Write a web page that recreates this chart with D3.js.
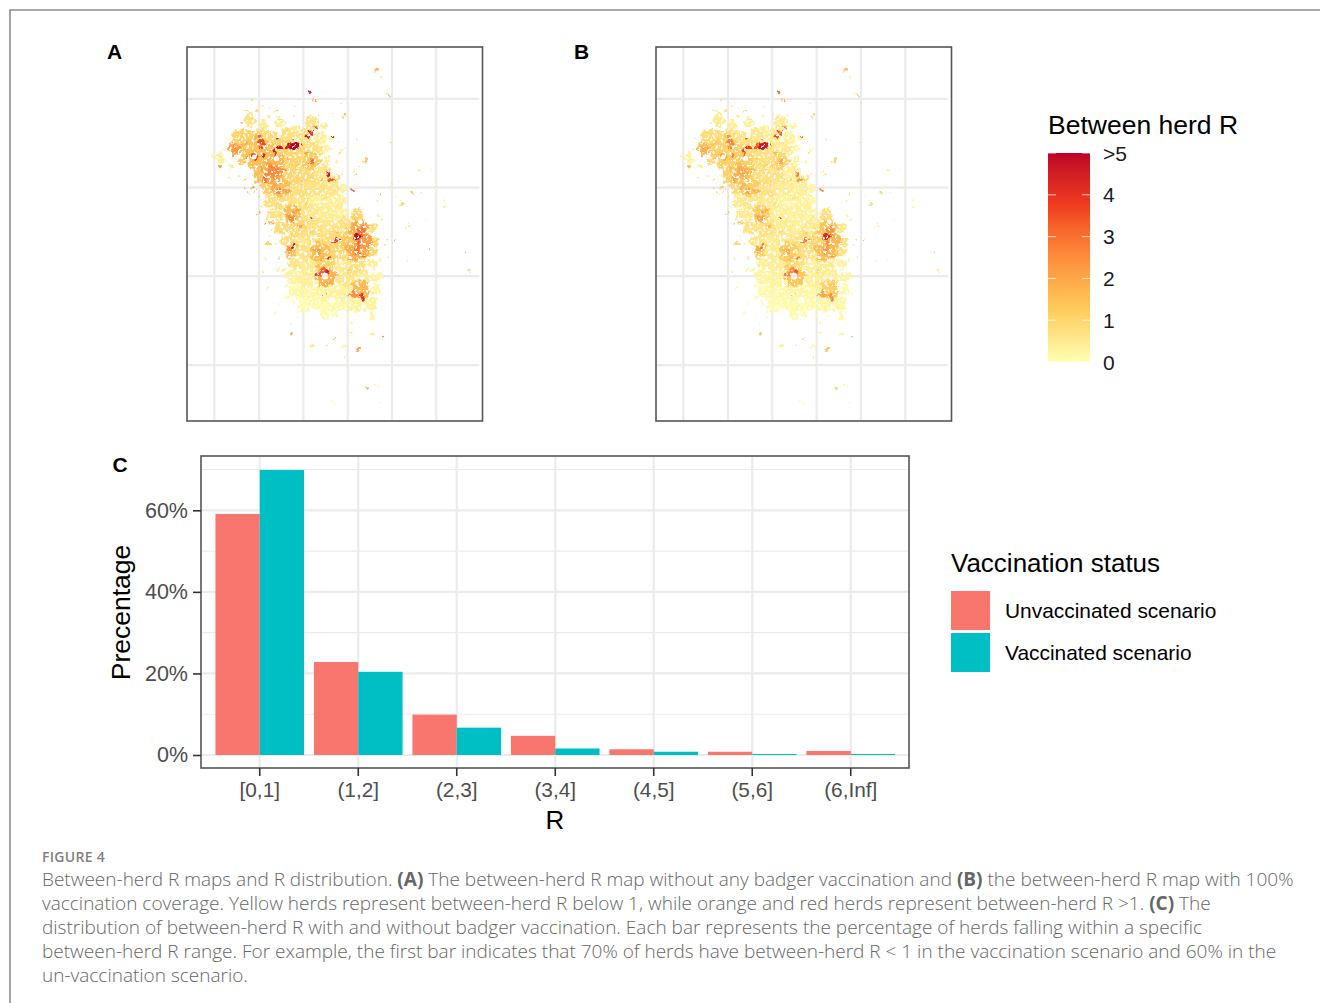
<!DOCTYPE html>
<html>
<head>
<meta charset="utf-8">
<script src="https://cdn.jsdelivr.net/npm/d3@7"></script>
<style>
html, body { margin: 0; padding: 0; background: #fff; }
svg { display: block; }
text { font-family: "Liberation Sans", Arial, sans-serif; }
.caption text { font-family: "Open Sans", sans-serif; }
</style>
</head>
<body>
<div id="chart-area"></div>
<script>
// bar chart values
const categories = ["[0,1]", "(1,2]", "(2,3]", "(3,4]", "(4,5]", "(5,6]", "(6,Inf]"];
const statusNames = ["Unvaccinated scenario", "Vaccinated scenario"];
const unvaccinated = [59.1, 22.8, 9.9, 4.7, 1.4, 0.8, 1.0];
const vaccinated = [69.9, 20.4, 6.7, 1.6, 0.8, 0.25, 0.25];
const percentTicks = [0, 20, 40, 60];
const percentMinor = [10, 30, 50, 70];

// legend of the maps
const rTicks = [0, 1, 2, 3, 4, 5];
const rTickLabels = ["0", "1", "2", "3", "4", ">5"];
const rColours = ["#FFFFB2", "#FECC5C", "#FD8D3C", "#F03B20", "#BD0026"];
const rStops = [0, 1.25, 2.5, 3.75, 5];

// map graticule and herd patches, in map units:
// [east, south, radius, R without vaccination, R with vaccination]
const gridEast = [102, 236, 369, 502, 635, 768];
const gridSouth = [176, 442, 708, 975];
const herdPatches = [
  // main body, pale to mid
  [210,240,18,.7,.5],[245,255,14,.5,.4],[300,250,14,.5,.4],[395,250,22,.7,.5],[350,268,16,.5,.4],[432,258,8,.5,.3],
  [175,290,20,1.1,.9],[215,290,26,1.1,.9],[260,290,26,.9,.7],[320,290,24,.8,.6],[370,292,24,.7,.5],[420,290,18,.4,.3],[452,292,8,.3,.2],
  [165,325,20,1.9,1.5],[205,325,28,1.4,1.1],[250,325,30,1.5,1.1],[300,328,30,1,.8],[350,330,30,.9,.7],[400,330,28,.7,.5],[440,325,16,.3,.2],[478,330,7,.3,.2],
  [185,365,16,1.2,.9],[230,365,26,1.5,1.1],[280,368,30,1.7,1.2],[330,365,30,1,.8],[390,362,28,1.3,1],[440,362,16,.4,.3],[470,362,8,.3,.2],
  [240,402,24,1.5,1.1],[280,402,30,2,1.4],[330,402,30,1,.8],[380,402,30,.9,.7],[430,402,26,.6,.4],[468,410,14,.8,.6],
  [260,442,22,1.2,.9],[300,442,30,1.5,1.2],[350,442,30,.8,.7],[400,442,30,.7,.5],[450,442,28,.6,.4],[485,445,12,.3,.2],
  [270,482,20,.7,.5],[310,482,30,.8,.6],[360,482,30,.7,.5],[410,482,30,.4,.3],[460,482,28,.4,.3],[488,482,12,.3,.2],
  [285,522,20,.7,.5],[335,522,28,1.5,1.2],[385,522,30,.6,.4],[430,522,30,.5,.4],[475,522,26,.4,.3],[530,525,20,1,.8],
  [300,562,20,.9,.7],[345,562,30,.9,.7],[395,562,30,.7,.5],[440,562,30,.6,.4],[490,562,30,.7,.5],[540,562,28,1.9,1.4],[575,565,14,.8,.6],
  [320,602,20,.8,.6],[360,602,30,.6,.5],[410,602,30,.8,.6],[460,602,30,.9,.7],[510,602,30,1.3,1],[548,602,28,2.2,1.7],[585,602,14,1,.7],
  [332,635,18,1.5,1.2],[375,635,28,.7,.5],[420,635,30,1.5,1.2],[470,635,30,1,.8],[530,635,30,1.9,1.5],[570,635,16,1,.7],
  [340,672,20,.6,.4],[385,672,30,.5,.4],[435,672,30,1,.8],[490,672,28,.5,.4],[530,672,28,.7,.5],[575,672,16,.4,.3],
  [340,712,22,.3,.25],[380,712,30,.4,.3],[435,712,30,1.8,1.4],[500,712,30,.6,.4],[540,712,30,.5,.4],[585,712,18,.3,.25],
  [348,750,24,.15,.1],[390,750,30,.2,.15],[440,750,32,.3,.2],[490,750,30,.3,.2],[545,750,30,1.6,1.2],[590,750,16,.2,.15],
  [375,790,20,.1,.1],[420,790,28,.1,.1],[470,790,28,.15,.1],[520,790,26,.3,.2],[570,795,22,.3,.2],
  [430,822,12,.1,.1],[462,818,12,.1,.1],[575,825,10,.2,.15],
  // scattered herds around the body
  [590,85,6,1.9,1.6],[582,76,2,2.4,1.8],[600,105,3,.6,.5],[622,163,3,2.2,1.8],[435,150,2,.6,.4],[212,178,6,.8,.7],[180,185,2,.4,.3],[250,195,3,.5,.4],
  [350,198,3,1.1,.8],[485,190,3,.5,.4],[490,225,4,1.5,1.1],[290,215,5,1.1,.9],[340,225,4,1.1,.9],[450,220,4,1,.8],[400,183,7,2.3,1.9],[298,232,4,.9,.7],[268,205,2,.5,.4],
  [98,250,3,.3,.2],[118,352,13,.4,.3],[100,342,6,.3,.25],[135,360,6,.3,.25],[125,377,6,2,1.6],[148,412,4,1,.8],[150,375,6,.5,.4],[190,450,5,1.8,1.4],[215,440,5,2,1.5],[175,408,3,.6,.5],[205,462,3,1.2,1],[235,470,4,1,.8],[140,295,3,.8,.6],
  [530,298,3,2,1.5],[630,310,3,1,.7],[555,362,5,1.4,1.1],[540,380,3,.8,.6],[525,402,3,1.6,1.1],[490,325,4,2,1],[460,290,3,4,2.5],[470,335,4,1,.7],[505,340,3,.3,.2],[520,390,3,.4,.3],
  [715,390,3,.6,.5],[750,395,2,.5,.4],[630,428,5,.7,.6],[655,428,2,1,.7],[695,455,5,1.4,1.1],[725,458,3,.8,.6],[765,440,3,.5,.4],[650,465,3,.3,.2],[600,440,2,.4,.3],
  [575,463,3,1.8,1.3],[602,462,3,2.4,1.8],[590,480,4,.6,.5],[662,490,4,1.3,1],[645,470,2,.7,.5],[790,475,5,.4,.35],[795,498,4,.3,.25],[818,512,2,.3,.2],
  [682,555,5,1.6,1.3],[733,543,3,.4,.3],[600,532,5,.4,.3],[622,600,4,1,.8],[645,600,2,3,2],[622,650,3,1,.8],[745,630,2,3,.5],[610,560,3,.3,.2],
  [860,634,3,2.3,1.5],[864,692,3,1.2,.8],[680,662,3,.4,.3],[716,660,4,.4,.3],[780,650,2,.3,.2],[640,742,2,.4,.3],[280,672,3,1.4,1],[610,690,3,.3,.2],[620,780,2,.3,.2],
  [255,555,4,3,1.6],[275,548,5,1.8,1.4],[232,520,3,2.3,1.5],[262,610,5,1.2,1],[255,655,3,1,.7],[298,655,3,2.2,1.6],[250,695,3,.6,.4],[272,588,3,.8,.6],[240,480,3,1.4,1],[290,690,3,.5,.4],
  [262,745,4,.3,.2],[285,820,3,.3,.2],[332,880,6,1.6,1.3],[330,852,3,.8,.6],[395,918,6,.5,.4],[440,916,2,1.8,1.2],[460,897,3,1.4,1],[300,790,4,.2,.15],[320,770,6,.15,.1],[360,830,4,.2,.15],[400,860,3,.2,.15],
  [490,918,8,.3,.25],[510,880,6,.3,.2],[537,925,5,2,1.4],[548,960,5,.4,.3],[497,948,4,.4,.3],[605,890,3,3,1.8],[578,885,5,.4,.3],[515,850,5,.3,.2],[590,850,3,.2,.15],[540,860,3,.2,.15],
  [562,1043,5,1.5,1.1],[590,1035,5,.3,.25],[600,1015,2,.3,.2],[696,1033,2,.9,.7],[604,1090,2,.5,.4],[455,1087,2,.5,.4],[680,850,2,.3,.2],[715,815,2,.3,.2],
  // fringe of the body
  [245,440,4,1,.8],[238,500,4,.7,.5],[262,530,3,.5,.4],[270,570,4,.6,.5],[285,610,4,.8,.6],[300,640,3,.5,.4],[310,690,4,.4,.3],[318,735,5,.2,.15],[335,790,5,.2,.15],[355,810,4,.1,.1],
  [490,400,4,.8,.6],[500,520,3,.4,.3],[505,540,3,.5,.4],[610,620,3,.7,.5],[600,660,4,.4,.3],[605,720,4,.2,.15],[612,760,3,.2,.15],[600,810,3,.2,.15],[540,830,4,.2,.15],[500,825,4,.15,.1],[470,835,5,.1,.1],
  [160,270,4,.7,.5],[195,215,3,.8,.6],[230,210,4,.9,.7],[265,230,3,.6,.5],[320,215,2,.8,.6],[375,225,3,.6,.4],[415,225,3,.7,.5],[430,240,3,1,.7],[460,260,2,.6,.4],[150,310,3,1.2,1],[135,330,3,.8,.6],
  [470,310,3,.7,.5],[495,350,2,.5,.3],[490,380,3,.4,.3],[475,400,3,.7,.5],[200,415,3,1.4,1],[215,425,4,1.1,.8],[225,455,3,1.6,1.1],[240,440,3,1.3,1],
  // mottled orange inside the body
  [190,310,7,1.9,1.5],[160,340,8,2.2,1.7],[225,290,6,1.8,1.3],[270,380,9,2.3,1.6],[310,395,8,2.4,1.7],[240,385,7,2,1.5],[320,355,6,1.9,1.4],[375,345,6,2,1.5],
  [280,440,8,2.1,1.7],[320,450,7,2.1,1.8],[365,430,5,1.5,1.2],[420,420,6,1.3,1],[400,385,5,1.8,1.3],[350,380,5,1.4,1.1],[430,470,5,.9,.7],[375,490,5,1,.8],
  [320,525,7,2,1.7],[360,555,6,2,1.6],[345,515,6,2.3,1.9],[395,575,6,1.3,1],[470,580,6,1.4,1.1],[510,575,7,1.9,1.4],[500,625,8,1.9,1.5],[445,620,6,1.5,1.2],
  [350,620,5,1.5,1.1],[425,655,6,1.9,1.5],[398,625,6,1.7,1.4],[575,610,5,1.6,1.2],[505,690,5,1.2,.9],[515,735,6,1.4,1],[565,745,5,1.6,1.1],[410,680,6,1.5,1.2],[465,705,6,1.7,1.3],[440,740,5,1.2,.9],
  // hot spots
  [170,325,13,2.3,1.8],[280,395,18,2.6,1.9],[255,412,10,2.9,2],[300,455,9,2.6,2.1],[335,535,13,2.5,2.1],[520,765,13,2.5,2],[395,365,9,3.1,2.1],
  [545,570,14,3,2.4],[530,630,14,2.9,2.2],[535,615,8,3.2,2.5],[430,695,15,3.2,2.5],[410,635,10,2.2,1.8],[330,628,11,2.5,2],[518,453,6,3.1,2.6],
  [242,310,11,3.6,2.6],[235,295,6,3.2,2.4],[225,352,10,3.8,2.2],[250,345,6,4.4,2.6],[545,770,10,3.8,2.4],[445,400,6,4.5,2.6],[455,418,5,3.4,2.2],
  [340,315,14,5,4.6],[320,320,7,4.6,3.4],[300,322,8,4.8,3.9],[285,335,6,4.6,3.6],[292,296,5,4.6,3.6],[378,290,7,4.6,3.7],[392,276,5,4.4,3.4],[405,265,4,4.3,3.4],[360,310,5,4.5,3.8],
  [533,590,11,4.9,4.3],[388,156,5,4.6,3.2],[340,617,5,4.5,3],[465,603,6,4,3],[478,597,4,4.6,3],[495,567,3,4.6,3.4],[395,533,5,4.5,3.8],
  [450,657,4,4.4,3],[462,290,3,4.5,3],[185,245,2,4,1.5],[440,695,6,4.4,3.4],[415,700,5,3.8,2.9],[548,780,5,4.4,2.8],[435,765,4,3.5,2.5],[545,650,4,3.2,2.4],[205,350,5,3,2]
];
// clearings inside the body, where no herd is drawn: [east, south, radius]
const mapGaps = [
  [222,350,7],[288,355,8],[434,708,10],[345,543,5],[400,610,6],[470,640,5],[455,780,9],[545,712,7],
  [405,590,6],[375,640,5],[470,470,3],[310,490,6],[465,545,5],[540,545,7],[290,420,4],[350,400,3],[530,730,5],[480,662,6],
  [250,470,6],[215,390,5],[345,350,3],[440,630,3],[495,640,4],[400,720,4],[500,780,6]
];

const svg = d3.select("#chart-area").append("svg").attr("width", 1320).attr("height", 1003);

// page frame of the figure
svg.append("path")
    .attr("d", "M1320,10H10V1003")
    .attr("fill", "none").attr("stroke", "#8c8c8c").attr("stroke-width", 1.6);

const rColour = d3.scaleLinear().domain(rStops).range(rColours).interpolate(d3.interpolateLab);

// ---- maps
const mapX = d3.scaleLinear().domain([20, 908]).range([187, 483]);
const mapY = d3.scaleLinear().domain([20, 1143]).range([47, 421]);
const mapR = d3.scaleLinear().domain([0, 888]).range([0, 296]);
const defs = svg.append("defs");

const rough = defs.append("filter").attr("id", "rough")
    .attr("filterUnits", "userSpaceOnUse")
    .attr("x", 0).attr("y", 0).attr("width", 320).attr("height", 380);
rough.append("feTurbulence").attr("type", "fractalNoise").attr("baseFrequency", 0.13)
    .attr("numOctaves", 2).attr("seed", 4).attr("result", "warp");
rough.append("feDisplacementMap").attr("in", "SourceGraphic").attr("in2", "warp")
    .attr("scale", 10).attr("xChannelSelector", "R").attr("yChannelSelector", "G").attr("result", "moved");
rough.append("feTurbulence").attr("type", "fractalNoise").attr("baseFrequency", 0.36)
    .attr("numOctaves", 2).attr("seed", 9).attr("result", "spots");
rough.append("feColorMatrix").attr("in", "spots").attr("type", "matrix")
    .attr("values", "0 0 0 0 0  0 0 0 0 0  0 0 0 0 0  9 0 0 0 -2.9").attr("result", "holes");
rough.append("feComposite").attr("in", "moved").attr("in2", "holes").attr("operator", "in").attr("result", "cut");
rough.append("feGaussianBlur").attr("in", "cut").attr("stdDeviation", 0.6);

const gapMask = defs.append("mask").attr("id", "gaps").attr("maskUnits", "userSpaceOnUse")
    .attr("x", 180).attr("y", 40).attr("width", 310).attr("height", 390);
gapMask.append("rect").attr("x", 180).attr("y", 40).attr("width", 310).attr("height", 390).attr("fill", "#fff");
gapMask.selectAll("circle").data(mapGaps).enter().append("circle")
    .attr("cx", d => mapX(d[0])).attr("cy", d => mapY(d[1])).attr("r", d => mapR(d[2])).attr("fill", "#000");

function drawMap(dx, valueIndex) {
    const g = svg.append("g").attr("transform", "translate(" + dx + ",0)");
    g.selectAll(".east").data(gridEast).enter().append("line").attr("class", "east")
        .attr("x1", d => mapX(d)).attr("x2", d => mapX(d)).attr("y1", 47).attr("y2", 421)
        .attr("stroke", "#EBEBEB").attr("stroke-width", 2.2);
    g.selectAll(".south").data(gridSouth).enter().append("line").attr("class", "south")
        .attr("x1", 187).attr("x2", mapX(897)).attr("y1", d => mapY(d)).attr("y2", d => mapY(d))
        .attr("stroke", "#EBEBEB").attr("stroke-width", 2.2);

    const ordered = herdPatches.slice().sort((a, b) => a[valueIndex] - b[valueIndex]);
    g.append("g").attr("mask", "url(#gaps)")
      .append("g").attr("transform", "translate(180,40)").attr("filter", "url(#rough)")
      .append("g").attr("transform", "translate(-180,-40)")
      .selectAll("circle").data(ordered).enter().append("circle")
        .attr("cx", d => mapX(d[0])).attr("cy", d => mapY(d[1])).attr("r", d => mapR(d[2]))
        .attr("fill", d => rColour(d[valueIndex]));

    g.append("rect").attr("x", 187).attr("y", 47).attr("width", 295.5).attr("height", 374)
        .attr("fill", "none").attr("stroke", "#555").attr("stroke-width", 1.6);
}
drawMap(0, 3);
drawMap(469, 4);

const tagStyle = sel => sel.attr("font-size", 21).attr("font-weight", "bold").attr("fill", "#000");
svg.append("text").attr("x", 107).attr("y", 59).text("A").call(tagStyle);
svg.append("text").attr("x", 574).attr("y", 59).text("B").call(tagStyle);
svg.append("text").attr("x", 112.5).attr("y", 472).text("C").call(tagStyle);

// ---- colour bar
const barY = d3.scaleLinear().domain([0, 5]).range([362, 153]);
const grad = defs.append("linearGradient").attr("id", "rGrad")
    .attr("x1", 0).attr("x2", 0).attr("y1", 1).attr("y2", 0);
grad.selectAll("stop").data(d3.range(0, 5.01, 0.25)).enter().append("stop")
    .attr("offset", d => d / 5).attr("stop-color", d => rColour(d));
svg.append("rect").attr("x", 1048).attr("y", 153).attr("width", 42).attr("height", 209).attr("fill", "url(#rGrad)");
svg.selectAll(".rtickl").data(rTicks).enter().append("line").attr("class", "rtickl")
    .attr("x1", 1048).attr("x2", 1056).attr("y1", d => barY(d)).attr("y2", d => barY(d))
    .attr("stroke", "#fff").attr("stroke-opacity", 0.75);
svg.selectAll(".rtickr").data(rTicks).enter().append("line").attr("class", "rtickr")
    .attr("x1", 1082).attr("x2", 1090).attr("y1", d => barY(d)).attr("y2", d => barY(d))
    .attr("stroke", "#fff").attr("stroke-opacity", 0.75);
svg.selectAll(".rlabel").data(rTicks).enter().append("text").attr("class", "rlabel")
    .attr("x", 1103).attr("y", d => barY(d) + 7.5)
    .attr("font-size", 21).attr("fill", "#1a1a1a")
    .text((d, i) => rTickLabels[i]);
svg.append("text").attr("x", 1048).attr("y", 134).attr("font-size", 26.5).attr("fill", "#000").text("Between herd R");

// ---- panel C
const panelLeft = 201, panelRight = 909, panelTop = 456, panelBottom = 768;
const x = d3.scaleBand().domain(categories).range([210.5, 900]);
const xSub = d3.scaleBand().domain(statusNames).range([0, x.bandwidth() * 0.9]);
const y = d3.scaleLinear().domain([0, 60]).range([755, 510.3]);
const fills = d3.scaleOrdinal().domain(statusNames).range(["#F8766D", "#00BFC4"]);

svg.selectAll(".minor").data(percentMinor).enter().append("line").attr("class", "minor")
    .attr("x1", panelLeft).attr("x2", panelRight).attr("y1", d => y(d)).attr("y2", d => y(d))
    .attr("stroke", "#EBEBEB").attr("stroke-width", 1.1);
svg.selectAll(".major").data(percentTicks).enter().append("line").attr("class", "major")
    .attr("x1", panelLeft).attr("x2", panelRight).attr("y1", d => y(d)).attr("y2", d => y(d))
    .attr("stroke", "#EBEBEB").attr("stroke-width", 2.2);
svg.selectAll(".vmajor").data(categories).enter().append("line").attr("class", "vmajor")
    .attr("x1", d => x(d) + x.bandwidth() / 2).attr("x2", d => x(d) + x.bandwidth() / 2)
    .attr("y1", panelTop).attr("y2", panelBottom)
    .attr("stroke", "#EBEBEB").attr("stroke-width", 2.2);

const bars = svg.append("g");
[unvaccinated, vaccinated].forEach(function (values, s) {
    bars.selectAll(".s" + s).data(values).enter().append("rect").attr("class", "s" + s)
        .attr("x", (d, i) => x(categories[i]) + x.bandwidth() * 0.05 + xSub(statusNames[s]))
        .attr("y", d => y(d))
        .attr("width", xSub.bandwidth())
        .attr("height", d => y(0) - y(d))
        .attr("fill", fills(statusNames[s]));
});

svg.append("rect").attr("x", panelLeft).attr("y", panelTop)
    .attr("width", panelRight - panelLeft).attr("height", panelBottom - panelTop)
    .attr("fill", "none").attr("stroke", "#555").attr("stroke-width", 1.6);

const yAxis = svg.append("g").attr("transform", "translate(" + panelLeft + ",0)")
    .call(d3.axisLeft(y).tickValues(percentTicks).tickFormat(d => d + "%").tickSize(8).tickPadding(5));
const xAxis = svg.append("g").attr("transform", "translate(0," + panelBottom + ")")
    .call(d3.axisBottom(x).tickSize(8).tickPadding(6));
[yAxis, xAxis].forEach(function (a) {
    a.select(".domain").remove();
    a.selectAll("line").attr("stroke", "#333").attr("stroke-width", 1.6);
    a.selectAll("text").attr("fill", "#4D4D4D").attr("font-family", "Liberation Sans");
});
yAxis.selectAll("text").attr("font-size", 21.5);
xAxis.selectAll("text").attr("font-size", 20.8);

svg.append("text").attr("x", 555).attr("y", 829).attr("text-anchor", "middle")
    .attr("font-size", 26).attr("fill", "#000").text("R");
svg.append("text").attr("transform", "translate(130,612.5) rotate(-90)").attr("text-anchor", "middle")
    .attr("font-size", 26.5).attr("fill", "#000").text("Precentage");

// ---- status legend
svg.append("text").attr("x", 951).attr("y", 572).attr("font-size", 26).attr("fill", "#000").text("Vaccination status");
const keyY = d3.scaleBand().domain(statusNames).range([590, 674]);
svg.selectAll(".key").data(statusNames).enter().append("rect").attr("class", "key")
    .attr("x", 951).attr("y", d => keyY(d) + 1).attr("width", 39).attr("height", keyY.bandwidth() - 3)
    .attr("fill", d => fills(d));
svg.selectAll(".keytext").data(statusNames).enter().append("text").attr("class", "keytext")
    .attr("x", 1005).attr("y", d => keyY(d) + 28)
    .attr("font-size", 20.9).attr("fill", "#000").text(d => d);

// ---- caption
const figureLabel = "FIGURE 4";
const captionLines = [
    [["Between-herd R maps and R distribution. ", 0], ["(A)", 1], [" The between-herd R map without any badger vaccination and ", 0], ["(B)", 1], [" the between-herd R map with 100%", 0]],
    [["vaccination coverage. Yellow herds represent between-herd R below 1, while orange and red herds represent between-herd R >1. ", 0], ["(C)", 1], [" The", 0]],
    [["distribution of between-herd R with and without badger vaccination. Each bar represents the percentage of herds falling within a specific", 0]],
    [["between-herd R range. For example, the first bar indicates that 70% of herds have between-herd R < 1 in the vaccination scenario and 60% in the", 0]],
    [["un-vaccination scenario.", 0]]
];
const cap = svg.append("g").attr("class", "caption");
cap.append("text").attr("x", 42).attr("y", 862).attr("font-size", 14).attr("font-weight", 600)
    .attr("letter-spacing", 0.3).attr("fill", "#7f7f7f").text(figureLabel);
const lines = cap.selectAll(".capline").data(captionLines).enter().append("text").attr("class", "capline")
    .attr("x", 42).attr("y", (d, i) => 886 + i * 24)
    .attr("font-size", 19).attr("font-weight", 300).attr("fill", "#666");
lines.selectAll("tspan").data(d => d).enter().append("tspan")
    .attr("font-weight", d => d[1] ? 700 : 300)
    .text(d => d[0]);
</script>
</body>
</html>
